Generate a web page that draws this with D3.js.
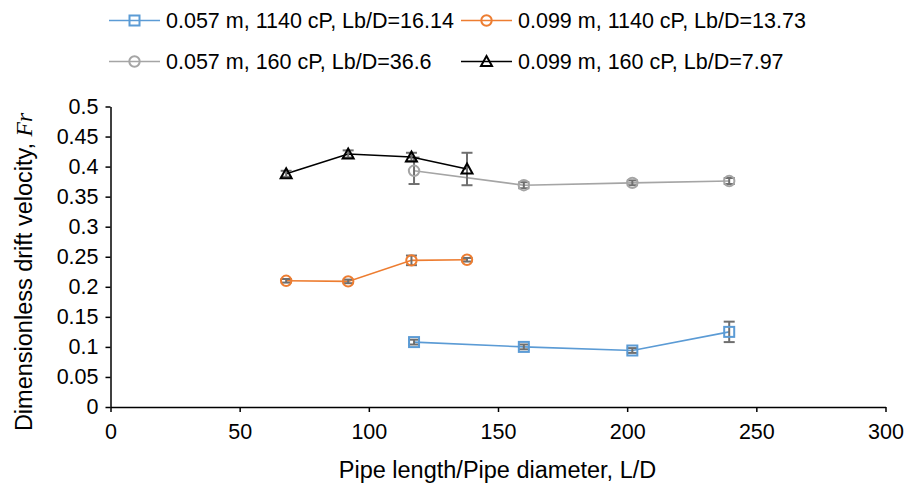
<!DOCTYPE html>
<html>
<head>
<meta charset="utf-8">
<script src="https://cdn.jsdelivr.net/npm/d3@7"></script>
<style>
  html, body { margin: 0; padding: 0; background: #fff; }
  svg { display: block; font-family: "Liberation Sans", Arial, sans-serif; }
</style>
</head>
<body>
<svg id="chart" width="907" height="483"></svg>
<script>
// L/D positions for the two pipe diameters
const ldSmallPipe = [117.5, 160, 202, 239.5];   // 0.057 m
const ldLargePipe = [68, 92, 116.5, 138];       // 0.099 m

// Froude number (dimensionless drift velocity) and its error
const frSmall1140 = [0.108, 0.100, 0.094, 0.125];
const errSmall1140 = [0.004, 0.004, 0.004, 0.017];
const frLarge1140 = [0.210, 0.209, 0.244, 0.245];
const errLarge1140 = [0.003, 0.003, 0.008, 0.003];
const frSmall160 = [0.393, 0.369, 0.373, 0.376];
const errSmall160 = [0.022, 0.005, 0.004, 0.005];
const frLarge160 = [0.388, 0.421, 0.416, 0.396];
const errLarge160 = [0.005, 0.006, 0.007, 0.027];

const seriesNames = [
  "0.057 m, 1140 cP, Lb/D=16.14",
  "0.099 m, 1140 cP, Lb/D=13.73",
  "0.057 m, 160 cP, Lb/D=36.6",
  "0.099 m, 160 cP, Lb/D=7.97"
];
const xTicks = [0, 50, 100, 150, 200, 250, 300];
const yTicks = [0, 0.05, 0.1, 0.15, 0.2, 0.25, 0.3, 0.35, 0.4, 0.45, 0.5];

const series = [
  { name: seriesNames[0], x: ldSmallPipe, y: frSmall1140, e: errSmall1140, color: "#5B9BD5", marker: "square" },
  { name: seriesNames[1], x: ldLargePipe, y: frLarge1140, e: errLarge1140, color: "#ED7D31", marker: "circle" },
  { name: seriesNames[2], x: ldSmallPipe, y: frSmall160, e: errSmall160, color: "#A5A5A5", marker: "circle" },
  { name: seriesNames[3], x: ldLargePipe, y: frLarge160, e: errLarge160, color: "#000000", marker: "triangle" }
];

const svg = d3.select("#chart");
const plot = { left: 110.5, right: 885.5, top: 106.5, bottom: 407 };

const x = d3.scaleLinear().domain([0, 300]).range([plot.left, plot.right]);
const y = d3.scaleLinear().domain([0, 0.5]).range([plot.bottom, plot.top]);

// Axes
const xAxis = svg.append("g")
  .attr("transform", `translate(0,${plot.bottom})`)
  .call(d3.axisBottom(x).tickValues(xTicks).tickFormat(d3.format("d")).tickSizeInner(5).tickSizeOuter(0).tickPadding(12));
const yAxis = svg.append("g")
  .attr("transform", `translate(${plot.left},0)`)
  .call(d3.axisLeft(y).tickValues(yTicks).tickFormat(d => String(+d.toFixed(2))).tickSizeInner(5).tickSizeOuter(0).tickPadding(7));

[xAxis, yAxis].forEach(g => {
  g.select(".domain").attr("stroke", "#000").attr("stroke-width", 1.5);
  g.selectAll(".tick line").attr("stroke", "#000").attr("stroke-width", 1.5);
  g.selectAll(".tick text").attr("fill", "#000").style("font-size", "21.5px")
    .style("font-family", "'Liberation Sans', Arial, sans-serif");
});
yAxis.lower();

// Axis titles
svg.append("text")
  .attr("x", 497.5)
  .attr("y", 478)
  .attr("text-anchor", "middle")
  .style("font-size", "23.5px")
  .attr("fill", "#000")
  .text("Pipe length/Pipe diameter, L/D");

const yTitle = svg.append("text")
  .attr("transform", "translate(32,272) rotate(-90)")
  .attr("text-anchor", "middle")
  .style("font-size", "23.5px")
  .attr("fill", "#000");
yTitle.append("tspan").text("Dimensionless drift velocity, ");
yTitle.append("tspan")
  .style("font-family", "'Liberation Serif', 'DejaVu Serif', serif")
  .style("font-style", "italic")
  .text("Fr");

// Marker drawing helper
function drawMarker(g, type, color) {
  if (type === "square") {
    g.append("rect").attr("x", -5).attr("y", -5).attr("width", 10).attr("height", 10)
      .attr("fill", "none").attr("stroke", color).attr("stroke-width", 2);
  } else if (type === "circle") {
    g.append("circle").attr("r", 5.2)
      .attr("fill", "none").attr("stroke", color).attr("stroke-width", 2);
  } else {
    g.append("path").attr("d", "M0,-5.5L5.5,4.5L-5.5,4.5Z")
      .attr("fill", "none").attr("stroke", color).attr("stroke-width", 2);
  }
}

const line = d3.line().x(d => x(d.x)).y(d => y(d.y));
const errColor = "#6f6f6f";
const capHalf = 5.5;

series.forEach(s => {
  const pts = s.x.map((xv, i) => ({ x: xv, y: s.y[i], e: s.e[i] }));
  const g = svg.append("g");
  g.append("path").datum(pts).attr("d", line)
    .attr("fill", "none").attr("stroke", s.color).attr("stroke-width", 1.6);

  // error bars
  const eb = g.selectAll(".eb").data(pts).enter().append("g");
  eb.append("line")
    .attr("x1", d => x(d.x)).attr("x2", d => x(d.x))
    .attr("y1", d => y(d.y - d.e)).attr("y2", d => y(d.y + d.e))
    .attr("stroke", errColor).attr("stroke-width", 2);
  [-1, 1].forEach(sgn => {
    eb.append("line")
      .attr("x1", d => x(d.x) - capHalf).attr("x2", d => x(d.x) + capHalf)
      .attr("y1", d => y(d.y + sgn * d.e)).attr("y2", d => y(d.y + sgn * d.e))
      .attr("stroke", errColor).attr("stroke-width", 2);
  });

  pts.forEach(d => {
    const m = g.append("g").attr("transform", `translate(${x(d.x)},${y(d.y)})`);
    drawMarker(m, s.marker, s.color);
  });
});

// Legend: two rows of two entries; the font is sized so that the longest
// first-column label fits the column width
const legendCol0 = 109, legendCol1 = 461, legendLine = 51, legendTextOffset = 57, legendGap = 7;
const probe = svg.append("text").style("font-size", "20px").text(seriesNames[0]);
const probeWidth = probe.node().getComputedTextLength();
probe.remove();
const legendFont = 20 * (legendCol1 - legendCol0 - legendTextOffset - legendGap) / probeWidth;

const legendPos = [
  { lx: legendCol0, ly: 20.5 },
  { lx: legendCol1, ly: 20.5 },
  { lx: legendCol0, ly: 61.5 },
  { lx: legendCol1, ly: 61.5 }
];
series.forEach((s, i) => {
  const p = legendPos[i];
  const g = svg.append("g").attr("transform", `translate(${p.lx},${p.ly})`);
  g.append("line").attr("x1", 0).attr("x2", legendLine).attr("y1", 0).attr("y2", 0)
    .attr("stroke", s.color).attr("stroke-width", 1.6);
  drawMarker(g.append("g").attr("transform", `translate(${legendLine / 2},0)`), s.marker, s.color);
  g.append("text").attr("x", legendTextOffset).attr("y", 0).attr("dy", "0.35em")
    .style("font-size", `${legendFont}px`).attr("fill", "#000").text(s.name);
});
</script>
</body>
</html>
